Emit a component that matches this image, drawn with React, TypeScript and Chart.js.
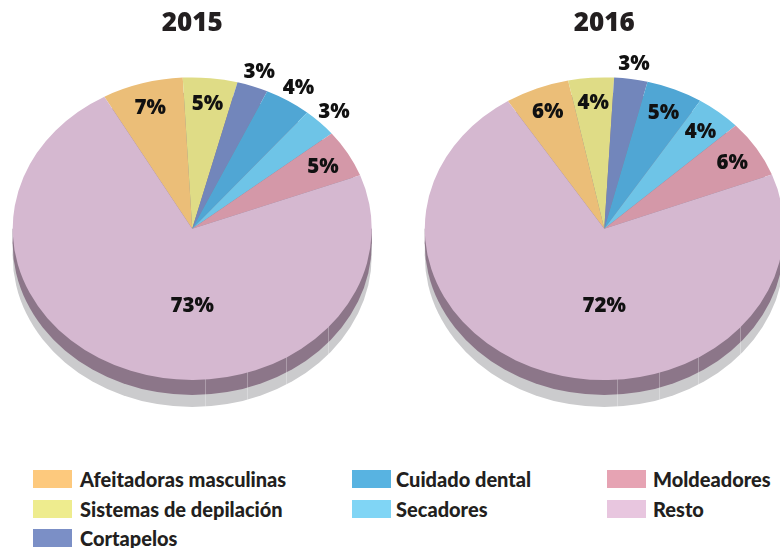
import React, { useEffect, useRef } from 'react';
import { Chart, registerables } from 'chart.js';

Chart.register(...registerables);

const categories = [
  'Afeitadoras masculinas',
  'Sistemas de depilación',
  'Cortapelos',
  'Cuidado dental',
  'Secadores',
  'Moldeadores',
  'Resto',
];
const values2015 = [7.3, 4.9, 2.8, 4.2, 3.1, 5.1, 72.6];
const values2016 = [5.8, 4.1, 3.0, 5.1, 4.1, 6.1, 71.8];
const titles = ['2015', '2016'];

const sliceColors = ['#EBBE78', '#DFDC86', '#7286BB', '#50A6D4', '#6EC4E7', '#D498A8', '#D5B8D0'];
const legendColors = ['#FDC97D', '#EEEC8E', '#7B8FC6', '#58B3E1', '#80D5F5', '#E6A3B3', '#E8C6DF'];
const outside2015 = [false, false, true, true, true, false, false];
const outside2016 = [false, false, true, false, false, false, false];
const seamAngles = [4.1, 17.8, 31.6, 49.3];

const TEXT = '#231F20';
const FONT = '"Open Sans", "Noto Sans", sans-serif';

const pie3d = {
  id: 'pie3d',
  beforeDatasetsDraw(chart: any, _args: any, opts: any) {
    const arc = chart.getDatasetMeta(0).data[0];
    const ctx = chart.ctx;
    ctx.save();
    if (!arc) return;
    const { x, y, outerRadius: R } = arc.getProps(['x', 'y', 'outerRadius'], true);
    const ry = R * opts.ratio;
    ctx.fillStyle = opts.shadowColor;
    ctx.beginPath();
    ctx.ellipse(x, y + opts.shadowDepth, R, ry, 0, 0, Math.PI * 2);
    ctx.fill();
    ctx.fillRect(x - R, y, 2 * R, opts.shadowDepth);
    ctx.fillStyle = opts.sideColor;
    ctx.beginPath();
    ctx.ellipse(x, y + opts.depth, R, ry, 0, 0, Math.PI * 2);
    ctx.fill();
    ctx.fillRect(x - R, y, 2 * R, opts.depth);
    // faint facet seams on the side
    ctx.strokeStyle = 'rgba(255,255,255,0.28)';
    ctx.lineWidth = 1;
    (opts.seams as number[]).forEach((deg) => {
      const t = (deg * Math.PI) / 180;
      const sx = Math.round(x + R * Math.sin(t)) + 0.5;
      const sy = y + ry * Math.cos(t);
      ctx.beginPath();
      ctx.moveTo(sx, sy - 2);
      ctx.lineTo(sx, sy + opts.shadowDepth);
      ctx.stroke();
    });
    ctx.translate(0, y);
    ctx.scale(1, opts.ratio);
    ctx.translate(0, -y);
  },
  afterDatasetsDraw(chart: any, _args: any, opts: any) {
    const ctx = chart.ctx;
    ctx.restore();
    const meta = chart.getDatasetMeta(0);
    const values = chart.data.datasets[0].data as number[];
    const fs = 20.5;
    ctx.save();
    ctx.font = `800 ${fs}px ${FONT}`;
    ctx.fillStyle = '#111';
    ctx.textAlign = 'center';
    ctx.textBaseline = 'alphabetic';
    meta.data.forEach((el: any, i: number) => {
      const { x, y, startAngle, endAngle, outerRadius } = el.getProps(
        ['x', 'y', 'startAngle', 'endAngle', 'outerRadius'],
        true
      );
      const v = values[i];
      let px: number;
      let py: number;
      if (v > 50) {
        px = x;
        py = y + outerRadius * opts.ratio * 0.5;
      } else {
        const a = (startAngle + endAngle) / 2;
        const f = opts.outside[i] ? 1.11 : 0.84;
        px = x + Math.cos(a) * outerRadius * f;
        py = y + Math.sin(a) * outerRadius * f * opts.ratio;
      }
      ctx.fillText(Math.round(v) + '%', px, py + fs * 0.357);
    });
    ctx.restore();
  },
};

function PieCanvas(props: {
  values: number[];
  title: string;
  rotation: number;
  outside: boolean[];
  width: number;
  height: number;
  padding: { left: number; right: number; top: number; bottom: number };
  style: React.CSSProperties;
}) {
  const ref = useRef<HTMLCanvasElement | null>(null);
  useEffect(() => {
    if (!ref.current) return;
    const chart = new Chart(ref.current, {
      type: 'pie',
      data: {
        labels: categories,
        datasets: [
          {
            data: props.values,
            backgroundColor: sliceColors,
            borderWidth: 0,
            clip: false as any,
          },
        ],
      },
      options: {
        responsive: false,
        animation: false,
        rotation: props.rotation,
        layout: { padding: props.padding },
        events: [],
        plugins: {
          legend: { display: false },
          tooltip: { enabled: false },
          title: {
            display: true,
            text: props.title,
            color: TEXT,
            font: { family: FONT, size: 26, weight: '800', lineHeight: 1.2 },
            padding: { top: 8, bottom: 10 },
          },
          pie3d: {
            ratio: 0.843,
            depth: 15,
            shadowDepth: 27,
            sideColor: '#8C7689',
            shadowColor: '#CBCBCD',
            outside: props.outside,
            seams: seamAngles,
          },
        } as any,
      },
      plugins: [pie3d],
    });
    return () => chart.destroy();
  }, []);
  return (
    <canvas
      ref={ref}
      width={props.width}
      height={props.height}
      style={{ position: 'absolute', width: props.width, height: props.height, ...props.style }}
    />
  );
}

const legendCols = [
  { swatch: 33, text: 80 },
  { swatch: 352, text: 396 },
  { swatch: 607, text: 653 },
];
const legendRows = [470, 500, 529];
const legendLayout = [
  [0, 0],
  [0, 1],
  [0, 2],
  [1, 0],
  [1, 1],
  [2, 0],
  [2, 1],
];

export default function App() {
  return (
    <div
      style={{
        position: 'fixed',
        left: 0,
        top: 0,
        width: 780,
        height: 548,
        overflow: 'hidden',
        background: '#fff',
      }}
    >
      <PieCanvas
        values={values2015}
        title={titles[0]}
        rotation={-29.3}
        outside={outside2015}
        width={390}
        height={420}
        padding={{ left: 12.7, right: 18.3, top: 0, bottom: 11.8 }}
        style={{ left: 0, top: 0 }}
      />
      <PieCanvas
        values={values2016}
        title={titles[1]}
        rotation={-32.5}
        outside={outside2016}
        width={400}
        height={420}
        padding={{ left: 34.8, right: 6.2, top: 0, bottom: 11.8 }}
        style={{ left: 390, top: 0 }}
      />
      {categories.map((c, i) => {
        const [col, row] = legendLayout[i];
        const top = legendRows[row];
        return (
          <React.Fragment key={c}>
            <div
              style={{
                position: 'absolute',
                left: legendCols[col].swatch,
                top,
                width: 39,
                height: 18,
                background: legendColors[i],
              }}
            />
            <div
              style={{
                position: 'absolute',
                left: legendCols[col].text,
                top: top - 3,
                height: 24,
                lineHeight: '24px',
                fontFamily: 'Lato, "Open Sans", sans-serif',
                fontWeight: 900,
                fontSize: 20,
                color: TEXT,
                whiteSpace: 'nowrap',
              }}
            >
              {c}
            </div>
          </React.Fragment>
        );
      })}
    </div>
  );
}
